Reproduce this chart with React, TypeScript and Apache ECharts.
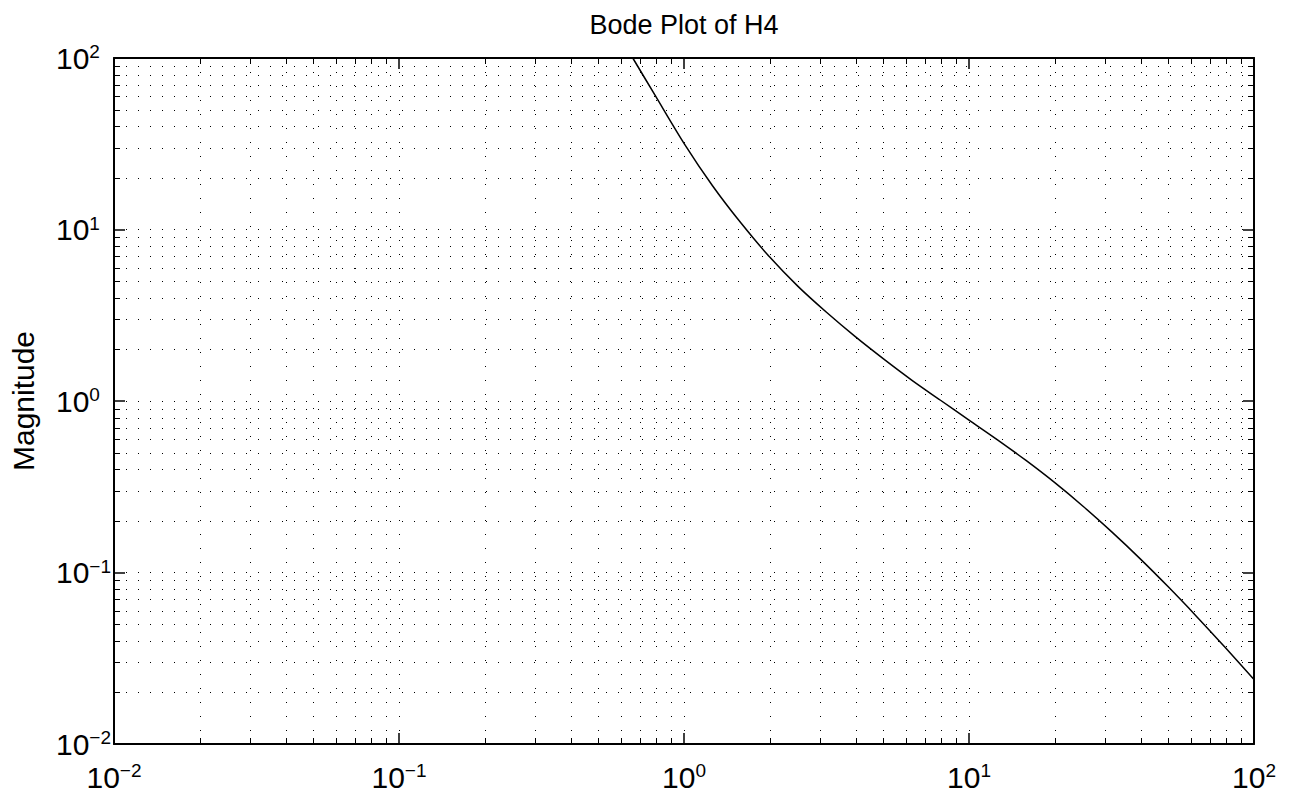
import React, { useEffect, useRef } from 'react';
import * as echarts from 'echarts';

const chartTitle = 'Bode Plot of H4';
const yAxisName = 'Magnitude';
const freq = [0.661, 0.794, 1, 1.259, 1.585, 1.995, 2.512, 3.162, 3.981, 5.012, 6.31, 7.943, 10, 12.59, 15.85, 19.95, 25.12, 31.62, 39.81, 50.12, 63.1, 79.43, 100];
const mag = [100, 60.1, 31.8, 18.0, 10.9, 6.93, 4.66, 3.29, 2.38, 1.76, 1.32, 1.01, 0.774, 0.594, 0.45, 0.335, 0.2435, 0.173, 0.1205, 0.0822, 0.0551, 0.0364, 0.0238];
const decades = [-2, -1, 0, 1, 2];
const minorMultipliers = [2, 3, 4, 5, 6, 7, 8, 9];

const FONT = '"Liberation Sans", Arial, Helvetica, sans-serif';

const supLabel = (v: number) => {
  const e = Math.round(Math.log10(v));
  return `{b|10}{s|${e < 0 ? '\u2212' + -e : e}}`;
};

const rich = {
  b: { fontSize: 30, fontFamily: FONT, color: '#000', lineHeight: 32 },
  s: { fontSize: 19, fontFamily: FONT, color: '#000', verticalAlign: 'top', lineHeight: 19, padding: [0, 0, 8, 0] },
};

export default function App() {
  const ref = useRef<HTMLDivElement>(null);
  useEffect(() => {
    const chart = echarts.init(ref.current!, null, { renderer: 'svg' });
    const minorVals: number[] = [];
    decades.slice(0, -1).forEach((d) => minorMultipliers.forEach((m) => minorVals.push(m * Math.pow(10, d))));
    const lo = Math.pow(10, decades[0]);
    const hi = Math.pow(10, decades[decades.length - 1]);

    const axisLine = { show: true, lineStyle: { color: '#000', width: 2 } };
    const majorTick = { show: true, inside: true, length: 11, lineStyle: { color: '#000', width: 1.5 } };

    chart.setOption({
      animation: false,
      title: {
        text: chartTitle,
        left: 679,
        top: 6,
        textAlign: 'center',
        textStyle: { fontFamily: FONT, fontSize: 27, fontWeight: 'normal', color: '#000' },
      },
      grid: { left: 110, right: 40, top: 58, bottom: 60, containLabel: false },
      xAxis: [
        {
          type: 'log', logBase: 10, min: lo, max: hi, position: 'bottom',
          axisLine, axisTick: majorTick,
          axisLabel: { formatter: supLabel, rich, margin: 17, showMinLabel: true, showMaxLabel: true },
          splitLine: { show: true, lineStyle: { color: '#000', width: 1, type: [1, 13] } },
        },
        {
          type: 'log', logBase: 10, min: lo, max: hi, position: 'top',
          axisLine, axisTick: majorTick, axisLabel: { show: false }, splitLine: { show: false },
        },
      ],
      yAxis: [
        {
          type: 'log', logBase: 10, min: lo, max: hi, position: 'left',
          name: yAxisName, nameLocation: 'middle', nameRotate: 90, nameGap: 76,
          nameTextStyle: { fontFamily: FONT, fontSize: 30, color: '#000' },
          axisLine, axisTick: majorTick,
          axisLabel: { formatter: supLabel, rich, margin: 58, align: 'left', showMinLabel: true, showMaxLabel: true },
          splitLine: { show: true, lineStyle: { color: '#000', width: 1, type: [1, 11] } },
        },
        {
          type: 'log', logBase: 10, min: lo, max: hi, position: 'right',
          axisLine, axisTick: majorTick, axisLabel: { show: false }, splitLine: { show: false },
        },
      ],
      series: [
        {
          type: 'custom',
          xAxisIndex: 0,
          yAxisIndex: 0,
          z: 1,
          silent: true,
          clip: false,
          data: [[1, 1]],
          renderItem: (params: any, api: any) => {
            const children: any[] = [];
            const top = api.coord([1, hi])[1];
            const bottom = api.coord([1, lo])[1];
            const left = api.coord([lo, 1])[0];
            const right = api.coord([hi, 1])[0];
            minorVals.forEach((v) => {
              const x = Math.round(api.coord([v, 1])[0]) + 0.5;
              children.push({ type: 'line', shape: { x1: x, y1: top, x2: x, y2: bottom }, style: { stroke: '#000', lineWidth: 1, lineDash: [1, 13] } });
              children.push({ type: 'line', shape: { x1: x, y1: bottom, x2: x, y2: bottom - 6 }, style: { stroke: '#000', lineWidth: 1 } });
              children.push({ type: 'line', shape: { x1: x, y1: top, x2: x, y2: top + 6 }, style: { stroke: '#000', lineWidth: 1 } });
              const y = Math.round(api.coord([1, v])[1]) + 0.5;
              children.push({ type: 'line', shape: { x1: left, y1: y, x2: right, y2: y }, style: { stroke: '#000', lineWidth: 1, lineDash: [1, 11] } });
              children.push({ type: 'line', shape: { x1: left, y1: y, x2: left + 6, y2: y }, style: { stroke: '#000', lineWidth: 1 } });
              children.push({ type: 'line', shape: { x1: right, y1: y, x2: right - 6, y2: y }, style: { stroke: '#000', lineWidth: 1 } });
            });
            return { type: 'group', children };
          },
        },
        {
          type: 'line',
          xAxisIndex: 0,
          yAxisIndex: 0,
          z: 5,
          data: freq.map((f, i) => [f, mag[i]]),
          showSymbol: false,
          smooth: 0.3,
          lineStyle: { color: '#000', width: 1.5 },
        },
      ],
    });
    return () => chart.dispose();
  }, []);
  return <div ref={ref} style={{ position: 'fixed', left: 0, top: 0, width: 1294, height: 804, background: '#fff' }} />;
}
